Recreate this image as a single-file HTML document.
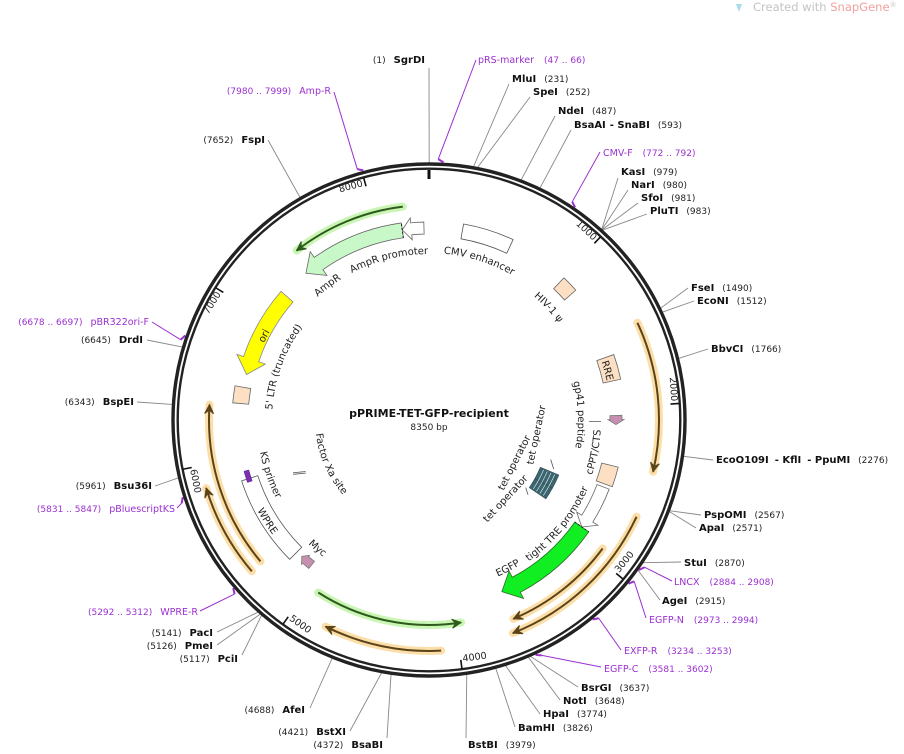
<!DOCTYPE html>
<html><head><meta charset="utf-8">
<style>
html,body{margin:0;padding:0;background:#fff;}
svg{display:block;font-family:"DejaVu Sans","Liberation Sans",sans-serif;}
.n{font-weight:bold;font-size:10px;fill:#111;}
.c{font-size:9px;fill:#222;}
.p{font-size:9.5px;fill:#9b30d0;}
.pc{font-size:9px;fill:#9b30d0;}
.f{font-size:10px;fill:#222;}
.t{font-size:9.5px;fill:#222;}
</style></head>
<body>
<svg id="s" width="904" height="754" viewBox="0 0 904 754" xmlns="http://www.w3.org/2000/svg">
<defs id="d"></defs>
<g id="g"></g>
<path d="M736 4 L742 4 L739 12 Z" fill="#a8dcea"/>
<text x="753" y="11" font-size="11.5" fill="#c4c4c4">Created with <tspan fill="#f0a0a0">SnapGene</tspan><tspan font-size="7" dy="-4">®</tspan></text>

<text x="429" y="417" text-anchor="middle" font-weight="bold" font-size="11" fill="#111">pPRIME-TET-GFP-recipient</text>
<text x="429" y="430" text-anchor="middle" font-size="9" fill="#222">8350 bp</text>

<text x="425" y="63" text-anchor="end"><tspan class="c">(1)</tspan><tspan class="n" dx="8">SgrDI</tspan></text>
<text x="478" y="63"><tspan class="p">pRS-marker</tspan><tspan class="pc" dx="10">(47 .. 66)</tspan></text>
<text x="512" y="82"><tspan class="n">MluI</tspan><tspan class="c" dx="8">(231)</tspan></text>
<text x="533" y="95"><tspan class="n">SpeI</tspan><tspan class="c" dx="8">(252)</tspan></text>
<text x="558" y="114"><tspan class="n">NdeI</tspan><tspan class="c" dx="8">(487)</tspan></text>
<text x="574" y="128"><tspan class="n">BsaAI</tspan><tspan class="n" dx="4">- SnaBI</tspan><tspan class="c" dx="8">(593)</tspan></text>
<text x="603" y="156"><tspan class="p">CMV-F</tspan><tspan class="pc" dx="10">(772 .. 792)</tspan></text>
<text x="621" y="175"><tspan class="n">KasI</tspan><tspan class="c" dx="8">(979)</tspan></text>
<text x="631" y="188"><tspan class="n">NarI</tspan><tspan class="c" dx="8">(980)</tspan></text>
<text x="641" y="201"><tspan class="n">SfoI</tspan><tspan class="c" dx="8">(981)</tspan></text>
<text x="650" y="214"><tspan class="n">PluTI</tspan><tspan class="c" dx="8">(983)</tspan></text>
<text x="691" y="291"><tspan class="n">FseI</tspan><tspan class="c" dx="8">(1490)</tspan></text>
<text x="697" y="304"><tspan class="n">EcoNI</tspan><tspan class="c" dx="8">(1512)</tspan></text>
<text x="711" y="352"><tspan class="n">BbvCI</tspan><tspan class="c" dx="8">(1766)</tspan></text>
<text x="716" y="463"><tspan class="n">EcoO109I</tspan><tspan class="n" dx="6">- KflI</tspan><tspan class="n" dx="6">- PpuMI</tspan><tspan class="c" dx="8">(2276)</tspan></text>
<text x="704" y="518"><tspan class="n">PspOMI</tspan><tspan class="c" dx="8">(2567)</tspan></text>
<text x="699" y="531"><tspan class="n">ApaI</tspan><tspan class="c" dx="8">(2571)</tspan></text>
<text x="684" y="566"><tspan class="n">StuI</tspan><tspan class="c" dx="8">(2870)</tspan></text>
<text x="674" y="585"><tspan class="p">LNCX</tspan><tspan class="pc" dx="10">(2884 .. 2908)</tspan></text>
<text x="662" y="604"><tspan class="n">AgeI</tspan><tspan class="c" dx="8">(2915)</tspan></text>
<text x="649" y="623"><tspan class="p">EGFP-N</tspan><tspan class="pc" dx="10">(2973 .. 2994)</tspan></text>
<text x="624" y="654"><tspan class="p">EXFP-R</tspan><tspan class="pc" dx="10">(3234 .. 3253)</tspan></text>
<text x="604" y="672"><tspan class="p">EGFP-C</tspan><tspan class="pc" dx="10">(3581 .. 3602)</tspan></text>
<text x="581" y="691"><tspan class="n">BsrGI</tspan><tspan class="c" dx="8">(3637)</tspan></text>
<text x="563" y="704"><tspan class="n">NotI</tspan><tspan class="c" dx="8">(3648)</tspan></text>
<text x="543" y="717"><tspan class="n">HpaI</tspan><tspan class="c" dx="8">(3774)</tspan></text>
<text x="518" y="731"><tspan class="n">BamHI</tspan><tspan class="c" dx="8">(3826)</tspan></text>
<text x="468" y="748"><tspan class="n">BstBI</tspan><tspan class="c" dx="8">(3979)</tspan></text>

<text x="383" y="748" text-anchor="end"><tspan class="c">(4372)</tspan><tspan class="n" dx="8">BsaBI</tspan></text>
<text x="346" y="735" text-anchor="end"><tspan class="c">(4421)</tspan><tspan class="n" dx="8">BstXI</tspan></text>
<text x="305" y="713" text-anchor="end"><tspan class="c">(4688)</tspan><tspan class="n" dx="8">AfeI</tspan></text>
<text x="238" y="662" text-anchor="end"><tspan class="c">(5117)</tspan><tspan class="n" dx="8">PciI</tspan></text>
<text x="213" y="649" text-anchor="end"><tspan class="c">(5126)</tspan><tspan class="n" dx="8">PmeI</tspan></text>
<text x="213" y="636" text-anchor="end"><tspan class="c">(5141)</tspan><tspan class="n" dx="8">PacI</tspan></text>
<text x="198" y="615" text-anchor="end"><tspan class="pc">(5292 .. 5312)</tspan><tspan class="p" dx="8">WPRE-R</tspan></text>
<text x="175" y="512" text-anchor="end"><tspan class="pc">(5831 .. 5847)</tspan><tspan class="p" dx="8">pBluescriptKS</tspan></text>
<text x="152" y="489" text-anchor="end"><tspan class="c">(5961)</tspan><tspan class="n" dx="8">Bsu36I</tspan></text>
<text x="134" y="405" text-anchor="end"><tspan class="c">(6343)</tspan><tspan class="n" dx="8">BspEI</tspan></text>
<text x="143" y="343" text-anchor="end"><tspan class="c">(6645)</tspan><tspan class="n" dx="8">DrdI</tspan></text>
<text x="149" y="325" text-anchor="end"><tspan class="pc">(6678 .. 6697)</tspan><tspan class="p" dx="8">pBR322ori-F</tspan></text>
<text x="265" y="143" text-anchor="end"><tspan class="c">(7652)</tspan><tspan class="n" dx="8">FspI</tspan></text>
<text x="331" y="94" text-anchor="end"><tspan class="pc">(7980 .. 7999)</tspan><tspan class="p" dx="8">Amp-R</tspan></text>

<g id="ticks" font-size="9.5" fill="#222">
<text id="k1">1000</text><text id="k2">2000</text><text id="k3">3000</text><text id="k4">4000</text>
<text id="k5">5000</text><text id="k6">6000</text><text id="k7">7000</text><text id="k8">8000</text>
</g>

<g class="f">
<text class="f"><textPath href="#cp1" startOffset="50%" text-anchor="middle">AmpR</textPath></text>
<text class="f"><textPath href="#cp2" startOffset="50%" text-anchor="middle">AmpR promoter</textPath></text>
<text class="f"><textPath href="#cp3" startOffset="50%" text-anchor="middle">CMV enhancer</textPath></text>
<text class="f"><textPath href="#cp4" startOffset="50%" text-anchor="middle">HIV-1 ψ</textPath></text>
<text class="f"><textPath href="#cp5" startOffset="50%" text-anchor="middle">RRE</textPath></text>
<text class="f"><textPath href="#cp6" startOffset="50%" text-anchor="middle">gp41 peptide</textPath></text>
<text class="f"><textPath href="#cp7" startOffset="50%" text-anchor="middle">cPPT/CTS</textPath></text>
<text class="f"><textPath href="#cp8" startOffset="50%" text-anchor="middle">tight TRE promoter</textPath></text>
<text class="f"><textPath href="#cp9" startOffset="50%" text-anchor="middle">EGFP</textPath></text>
<text class="f"><textPath href="#cp10" startOffset="50%" text-anchor="middle">Myc</textPath></text>
<text class="f"><textPath href="#cp11" startOffset="50%" text-anchor="middle">WPRE</textPath></text>
<text class="f"><textPath href="#cp12" startOffset="50%" text-anchor="middle">KS primer</textPath></text>
<text class="f"><textPath href="#cp13" startOffset="50%" text-anchor="middle">Factor Xa site</textPath></text>
<text class="f"><textPath href="#cp14" startOffset="50%" text-anchor="middle">5' LTR (truncated)</textPath></text>
<text class="f"><textPath href="#cp15" startOffset="50%" text-anchor="middle">ori</textPath></text>
</g>
<text class="f" text-anchor="middle" dominant-baseline="central" transform="translate(537,435) rotate(-78)">tet operator</text>
<text class="f" text-anchor="middle" dominant-baseline="central" transform="translate(515,463) rotate(-63)">tet operator</text>
<text class="f" text-anchor="middle" dominant-baseline="central" transform="translate(506,499) rotate(-47)">tet operator</text>
</svg>
<script>
(function(){
var NS="http://www.w3.org/2000/svg";
var cx=429,cy=420,L=8350;
var g=document.getElementById('g'),defs=document.getElementById('d');
function P(r,a){var t=a*Math.PI/180;return [cx+r*Math.sin(t),cy-r*Math.cos(t)];}
function f(p){return p[0].toFixed(2)+' '+p[1].toFixed(2);}
function arc(r,a1,a2){var sw=a2>a1?1:0,lg=Math.abs(a2-a1)>180?1:0;return ' A '+r+' '+r+' 0 '+lg+' '+sw+' '+f(P(r,a2));}
function arcPath(r,a1,a2){return 'M '+f(P(r,a1))+arc(r,a1,a2);}
function box(ri,ro,a1,a2){return 'M '+f(P(ro,a1))+arc(ro,a1,a2)+' L '+f(P(ri,a2))+arc(ri,a2,a1)+' Z';}
function arrow(ri,ro,a1,a2,cw,hl,hw){var rm=(ri+ro)/2,h=hl/rm*180/Math.PI,b;
 if(cw){b=a2-h;return 'M '+f(P(ro,a1))+arc(ro,a1,b)+' L '+f(P(ro+hw,b))+' L '+f(P(rm,a2))+' L '+f(P(ri-hw,b))+' L '+f(P(ri,b))+arc(ri,b,a1)+' Z';}
 b=a1+h;return 'M '+f(P(ro,a2))+arc(ro,a2,b)+' L '+f(P(ro+hw,b))+' L '+f(P(rm,a1))+' L '+f(P(ri-hw,b))+' L '+f(P(ri,b))+arc(ri,b,a2)+' Z';}
function el(tag,at,par){var e=document.createElementNS(NS,tag);for(var k in at)e.setAttribute(k,at[k]);(par||g).appendChild(e);return e;}
function path(d,fill,stroke,sw,extra){var a={d:d,fill:fill,stroke:stroke||'none','stroke-width':sw||1};if(extra)for(var k in extra)a[k]=extra[k];return el('path',a);}
function ang(p){return p/L*360;}
var en=[[1,429,68],[231,509,84],[252,530,97],[487,555,116],[593,571,130],
[979,618,178],[980,628,190],[981,638,203],[983,647,214],[1490,688,288],[1512,694,301],[1766,708,349],
[2276,713,460],[2567,701,515],[2571,696,528],[2870,681,562],[2915,660,600],[3637,578,687],[3648,560,700],
[3774,540,714],[3826,515,727],[3979,466,738],[4372,387,738],[4421,350,731],[4688,310,708],[5117,242,655],
[5126,217,645],[5141,217,632],[5961,155,486],[6343,137,402],[6645,147,340],[7652,268,140]];
en.forEach(function(e){var p=P(257,ang(e[0]));el('line',{x1:p[0],y1:p[1],x2:e[1],y2:e[2],stroke:'#888','stroke-width':0.9});});
var pr=[[47,476,60],[772,600,152],[2884,672,581],[2973,646,618],[3234,621,650],[3581,601,667],[5292,200,611],[5831,177,508],[6678,152,322],[7980,334,92]];
pr.forEach(function(e){var a=ang(e[0]),p=P(261,a),q=P(258,a+1.2);
 el('line',{x1:p[0],y1:p[1],x2:e[1],y2:e[2],stroke:'#9b30d0','stroke-width':1});
 el('line',{x1:p[0],y1:p[1],x2:q[0],y2:q[1],stroke:'#9b30d0','stroke-width':2});});
el('circle',{cx:cx,cy:cy,r:256,fill:'none',stroke:'#222','stroke-width':3.4});
el('circle',{cx:cx,cy:cy,r:251.3,fill:'none',stroke:'#222','stroke-width':2.4});
var z0=P(250,0),z1=P(241,0);el('line',{x1:z0[0],y1:z0[1],x2:z1[0],y2:z1[1],stroke:'#111','stroke-width':3});
for(var i=1;i<=8;i++){var a=ang(i*1000),p1=P(251,a),p2=P(242,a);
 el('line',{x1:p1[0],y1:p1[1],x2:p2[0],y2:p2[1],stroke:'#111','stroke-width':1.6});
 var t=document.getElementById('k'+i),top=(a<100||a>270);
 if(top){var rot=a>180?a-360:a;t.setAttribute('text-anchor','end');var q=P(243,a-0.6);t.setAttribute('transform','translate('+q[0]+','+q[1]+') rotate('+rot+')');}
 else{var q=P(244,a);t.setAttribute('text-anchor','start');t.setAttribute('transform','translate('+q[0]+','+q[1]+') rotate('+(a-180)+') translate(2,0)');}
}
function thin(r,a1,a2,glow,core){path(arcPath(r,a1,a2),'none',glow,8,{'stroke-linecap':'round',opacity:0.85});
 path(arcPath(r,a1,a2),'none',core,2);
 var s=a2>a1?1:-1,h=9/r*180/Math.PI,tp=P(r,a2),b1=P(r+4.5,a2-s*h),b2=P(r-4.5,a2-s*h),bm=P(r,a2-s*h*0.6);
 path('M '+f(tp)+' L '+f(b1)+' L '+f(bm)+' L '+f(b2)+' Z',core,core,1);}
var OG='#fbd89a',OC='#5a4418',GG='#bff3a8',GC='#2e5a1c';
thin(215,-7,-38,GG,GC);
thin(230,65,103,OG,OC);
thin(229,115,158.5,OG,OC);
thin(216,126.5,157,OG,OC);
thin(205,212.7,171,GG,GC);
thin(231,177,206.6,OG,OC);
thin(220,230,274,OG,OC);
thin(233,229.5,253,OG,OC);
path(arrow(184,199,-40,-8,false,16,7),'#c8f7c8','#666',0.8);
path(arrow(186,198,-8,-1.5,false,9,5),'#fff','#666',0.8);
var d1=P(184,-8),d2=P(199,-8);el('line',{x1:d1[0],y1:d1[1],x2:d2[0],y2:d2[1],stroke:'#222','stroke-dasharray':'2,2','stroke-width':1});
path(box(184,199,10,25),'#fff','#555',0.8);
path(arrow(180,196,-76,-49,false,16,7),'#ffff00','#888',0.8);
path(box(181,197,-85,-80),'#fde0c4','#666',0.8);
path(box(181,196,43.5,48.5),'#fde0c4','#666',0.8);
path(box(178,196,70.5,78),'#fde0c4','#666',0.8);
path(arrow(181,193,88.6,91.4,true,5,2),'#c890b0','#777',0.8);
path(box(178,195,104,110),'#fde0c4','#666',0.8);
path(arrow(180,193,111,125,true,10,6),'#fff','#666',0.8);
path(arrow(178,195,125,157,true,16,7),'#11ee22','#2a6a2a',0.8);
var e1=P(178,125),e2=P(195,125);el('line',{x1:e1[0],y1:e1[1],x2:e2[0],y2:e2[1],stroke:'#222','stroke-dasharray':'2,2','stroke-width':1});
path(arrow(182,191,219,223,true,5,1.5),'#c890b0','#777',0.8);
path(box(180,197,225,252),'#fff','#555',0.8);
path(box(187,192,251,254.5),'#7a30b0','#5a1a90',0.5);
var x1=P(134,247),x2=P(146,248.5);el('line',{x1:x1[0],y1:x1[1],x2:x2[0],y2:x2[1],stroke:'#555','stroke-width':2.4});
el('line',{x1:x1[0],y1:x1[1],x2:x2[0],y2:x2[1],stroke:'#fff','stroke-width':0.8});
path(box(121,141,113,119),'#3d6470','#2a4a52',0.6);
path(box(121,141,119,124),'#3d6470','#2a4a52',0.6);
for(var r=125;r<140;r+=4){path(arcPath(r,113.5,123.5),'none','#dfe','0.6');}
var l1=P(128,108),l2=P(134,111.5);el('line',{x1:l1[0],y1:l1[1],x2:l2[0],y2:l2[1],stroke:'#555','stroke-width':0.8});
var l3=P(118,125),l4=P(124,127);el('line',{x1:l3[0],y1:l3[1],x2:l4[0],y2:l4[1],stroke:'#555','stroke-width':0.8});
var l5=P(160,90.5),l6=P(172,90.5);el('line',{x1:l5[0],y1:l5[1],x2:l6[0],y2:l6[1],stroke:'#555','stroke-width':0.8});
function cp(id,r,ac,topStyle){var d=topStyle?arcPath(r,ac-70,ac+70):arcPath(r,ac+70,ac-70);el('path',{id:id,d:d,fill:'none'},defs);}
cp('cp1',166,-37,true);cp('cp2',166,-14,true);cp('cp3',167,17.5,true);cp('cp4',162,46.7,true);
cp('cp5',182,74.5,true);cp('cp6',149,88,true);cp('cp7',172,101,false);cp('cp8',173,129,false);
cp('cp9',171,152,false);cp('cp10',173,221,false);cp('cp11',194,238,false);cp('cp12',172,251,false);
cp('cp13',114,246,false);cp('cp14',157,290,true);cp('cp15',182,297,true);
})();
</script>
</body></html>
